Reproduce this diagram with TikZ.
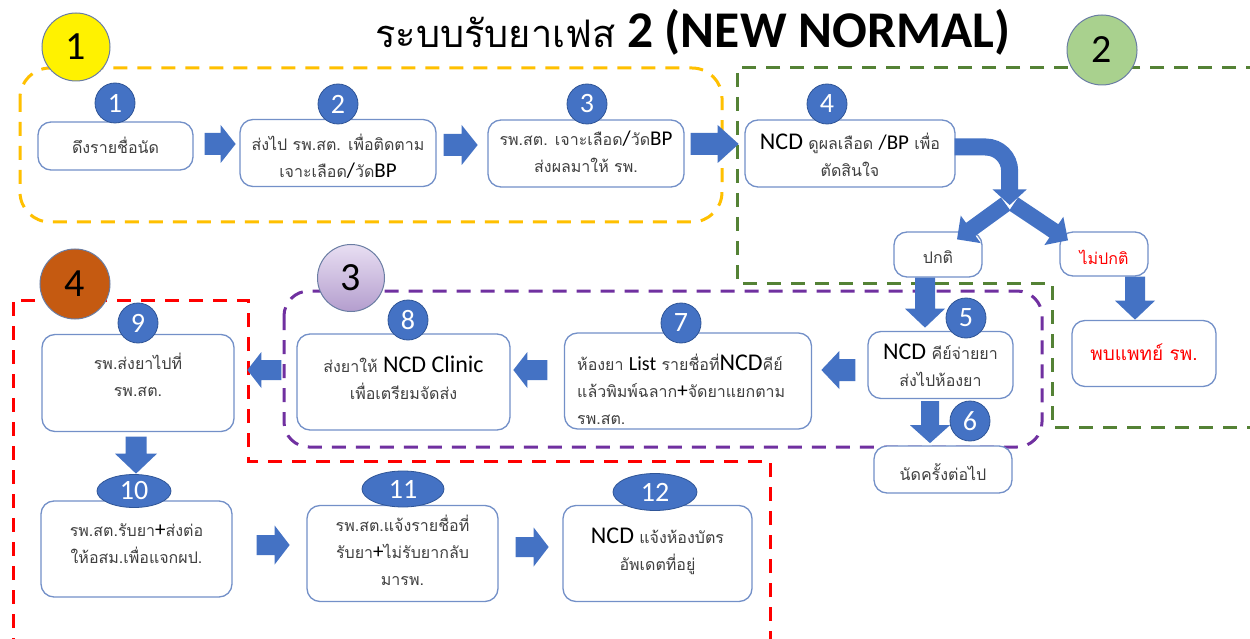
\documentclass[tikz,border=0pt]{standalone}
\usepackage{fontspec}
\setmainfont{Carlito}
\newfontfamily\thfont[Script=Thai]{Loma}
\usetikzlibrary{calc,shapes.geometric}

\definecolor{grpOrange}{HTML}{FFC000}
\definecolor{grpGreen}{HTML}{548235}
\definecolor{grpPurple}{HTML}{7030A0}
\definecolor{grpRed}{HTML}{FF0000}
\definecolor{flowBlue}{HTML}{4472C4}
\definecolor{badgeEdge}{HTML}{2F5597}
\definecolor{boxEdge}{HTML}{7390C8}
\definecolor{thaiGray}{HTML}{3F3F3F}
\definecolor{ringEdge}{HTML}{6A7DA3}

% Latin words inside Thai text
\newcommand\lat[2][21]{{\normalfont\fontsize{#1}{#1}\selectfont\color{black}#2}}

% block arrow: tail, tip, shaft half width, head half width, head length
\newcommand\flowarrow[5]{%
  \coordinate (fa-h) at ($(#2)!#5pt!(#1)$);
  \fill[flowBlue] ($(#1)!#3pt!90:(#2)$) -- ($(fa-h)!#3pt!90:(#2)$)
    -- ($(fa-h)!#4pt!90:(#2)$) -- (#2) -- ($(fa-h)!#4pt!-90:(#2)$)
    -- ($(fa-h)!#3pt!-90:(#2)$) -- ($(#1)!#3pt!-90:(#2)$) -- cycle;
}

\tikzset{
  grp/.style={line width=3pt, dash pattern=on 14pt off 10pt},
  box/.style={draw=boxEdge, line width=1.3pt, fill=white, rounded corners=13pt, inner sep=0pt},
  txt/.style={font=\thfont\fontsize{16}{27}\selectfont, text=thaiGray, align=center, inner sep=0pt},
  badge/.style={circle, fill=flowBlue, draw=badgeEdge, line width=0.8pt, text=white,
    font=\fontsize{28}{28}\selectfont, inner sep=0pt, minimum size=40pt},
  ellbadge/.style={ellipse, fill=flowBlue, draw=badgeEdge, line width=0.8pt, text=white,
    font=\fontsize{28}{28}\selectfont, inner sep=0pt},
  ring/.style={circle, draw=ringEdge, line width=1pt, inner sep=0pt, minimum size=68pt,
    font=\fontsize{40}{40}\selectfont, text=black},
}

\begin{document}
\begin{tikzpicture}[x=1pt, y=-1pt]
\useasboundingbox (0,0) rectangle (1250,639);
\fill[white] (0,0) rectangle (1250,639);

% group outlines
\draw[grp, grpOrange, rounded corners=30pt] (20,68) rectangle (722,222);
\draw[grp, grpGreen] (1260,68) -- (737,68) -- (737,283) -- (1052,283) -- (1052,427) -- (1260,427);
\draw[grp, grpPurple, rounded corners=25pt] (284,291) rectangle (1042,447);
\draw[grp, grpRed] (770,645) -- (770,461) -- (248,461) -- (248,300) -- (13,300) -- (13,645);

% title
\node[anchor=base west, inner sep=0pt] (title) at (375,48)
  {{\thfont\fontsize{38}{40}\selectfont ระบบรับยาเฟส}{\fontsize{51.5}{52}\selectfont\bfseries\ 2 (NEW NORMAL)}};

% process boxes
\node[box, minimum width=155pt, minimum height=48pt] (b1) at (115.5,146) {};
\node[box, minimum width=196pt, minimum height=67pt] (b2) at (338,153) {};
\node[box, minimum width=196pt, minimum height=67pt] (b3) at (586,153.5) {};
\node[box, minimum width=210pt, minimum height=67pt] (b4) at (850,153.5) {};
\node[box, minimum width=88pt, minimum height=45pt] (pk) at (938,254.5) {};
\node[box, minimum width=88pt, minimum height=44pt] (npk) at (1104,254) {};
\node[box, minimum width=144pt, minimum height=66pt] (doc) at (1144,353.5) {};
\node[box, minimum width=145pt, minimum height=67pt] (b5) at (940.5,365) {};
\node[box, minimum width=138pt, minimum height=47pt] (b6) at (943,469.5) {};
\node[box, minimum width=247pt, minimum height=96pt] (b7) at (688,381) {};
\node[box, minimum width=213pt, minimum height=96pt] (b8) at (403.5,382) {};
\node[box, minimum width=192pt, minimum height=97pt] (b9) at (138,383) {};
\node[box, minimum width=191pt, minimum height=96pt] (b10) at (136.5,549) {};
\node[box, minimum width=191pt, minimum height=96pt] (b11) at (402.5,553.5) {};
\node[box, minimum width=189pt, minimum height=96pt] (b12) at (657.5,553.5) {};

% box texts
\node[txt] (t1) at (115.5,145) {ดึงรายชื่อนัด};
\node[txt] (t2) at (338,156) {ส่งไป รพ.สต. เพื่อติดตาม\\ เจาะเลือด\lat{/}วัด\lat{BP}};
\node[txt] (t3) at (586,152) {รพ.สต. เจาะเลือด\lat{/}วัด\lat{BP}\\ ส่งผลมาให้ รพ.};
\node[txt] (t4) at (850,155) {\lat[24]{NCD} ดูผลเลือด \lat{/BP} เพื่อ\\ ตัดสินใจ};
\node[txt] (tpk) at (938,257) {ปกติ};
\node[txt, text=grpRed] (tnpk) at (1104,257) {ไม่ปกติ};
\node[txt, text=grpRed, font=\thfont\fontsize{19}{27}\selectfont] (tdoc) at (1144,352) {พบแพทย์ รพ.};
\node[txt] (t5) at (940.5,365) {\lat[24]{NCD} คีย์จ่ายยา\\ ส่งไปห้องยา};
\node[txt] (t6) at (943,472) {นัดครั้งต่อไป};
\node[txt, align=left, anchor=west] (t7) at (577,389) {ห้องยา \lat[20]{List} รายชื่อที่\lat[24]{NCD}คีย์\\ แล้วพิมพ์ฉลาก\lat{+}จัดยาแยกตาม\\ รพ.สต.};
\node[txt] (t8) at (403.5,378) {ส่งยาให้ \lat[24]{NCD Clinic}\\ เพื่อเตรียมจัดส่ง};
\node[txt] (t9) at (138,375) {รพ.ส่งยาไปที่\\ รพ.สต.};
\node[txt] (t10) at (136.5,544) {รพ.สต.รับยา\lat{+}ส่งต่อ\\ ให้อสม.เพื่อแจกผป.};
\node[txt] (t11) at (402.5,550) {รพ.สต.แจ้งรายชื่อที่\\ รับยา\lat{+}ไม่รับยากลับ\\ มารพ.};
\node[txt] (t12) at (657.5,551) {\lat[24]{NCD} แจ้งห้องบัตร\\ อัพเดตที่อยู่};

% straight block arrows
\coordinate (a12t) at ($(b1.east)+(11,-2)$);   \coordinate (a12h) at ($(b1.east)+(42,-2)$);
\coordinate (a23t) at ($(b2.east)+(7,-8)$);    \coordinate (a23h) at ($(b2.east)+(41,-8)$);
\coordinate (a34t) at ($(b3.east)+(6,-9.5)$);  \coordinate (a34h) at ($(b3.east)+(54,-9.5)$);
\coordinate (apkt) at ($(pk.south)+(-13,0)$);  \coordinate (apkh) at ($(pk.south)+(-13,50)$);
\coordinate (anpt) at ($(npk.south)+(31,0)$);  \coordinate (anph) at ($(npk.south)+(31,43)$);
\coordinate (a56t) at ($(b5.south)+(-10.5,2)$); \coordinate (a56h) at ($(b5.south)+(-10.5,44)$);
\coordinate (a57t) at ($(b5.west)+(-12,5)$);   \coordinate (a57h) at ($(b5.west)+(-46,5)$);
\coordinate (a78t) at ($(b7.west)+(-16.5,-11)$); \coordinate (a78h) at ($(b7.west)+(-50.5,-11)$);
\coordinate (a89t) at ($(b8.west)+(-15,-12)$); \coordinate (a89h) at ($(b8.west)+(-49,-12)$);
\coordinate (a910t) at ($(b9.south)+(-2,4.5)$); \coordinate (a910h) at ($(b9.south)+(-2,41.5)$);
\coordinate (a1011t) at ($(b10.east)+(24,-4)$); \coordinate (a1011h) at ($(b10.east)+(57,-4)$);
\coordinate (a1112t) at ($(b11.east)+(17,-6.5)$); \coordinate (a1112h) at ($(b11.east)+(50,-6.5)$);

\flowarrow{a12t}{a12h}{11}{19}{15}
\flowarrow{a23t}{a23h}{11}{20}{16}
\flowarrow{a34t}{a34h}{11}{19}{21}
\flowarrow{apkt}{apkh}{10}{20}{19}
\flowarrow{anpt}{anph}{10}{20}{19}
\flowarrow{a56t}{a56h}{9}{20}{18}
\flowarrow{a57t}{a57h}{11}{19}{18}
\flowarrow{a78t}{a78h}{10}{18}{14}
\flowarrow{a89t}{a89h}{10}{18}{14}
\flowarrow{a910t}{a910h}{10.5}{21}{20}
\flowarrow{a1011t}{a1011h}{10}{19.5}{15}
\flowarrow{a1112t}{a1112h}{10}{19.5}{15}

% bent arrow from box 4 splitting to both results
\draw[flowBlue, line width=17pt, rounded corners=24pt]
  ($(b4.east)+(-1,-6.5)$) -- ($(b4.east)+(54,-6.5)$) -- ($(b4.east)+(54,38)$);
\coordinate (split) at ($(b4.east)+(54,51.5)$);
\fill[flowBlue] ($(b4.east)+(37,36)$) -- ($(b4.east)+(71,36)$) -- (split) -- cycle;
\coordinate (spl) at ($(split)+(-4,-1)$);  \coordinate (splh) at ($(pk.north)+(19,8)$);
\coordinate (spr) at ($(split)+(4,-1)$);   \coordinate (sprh) at ($(npk.north)+(-36,9)$);
\flowarrow{spl}{splh}{8}{17}{17}
\flowarrow{spr}{sprh}{8}{17}{17}

% step badges
\node[badge] (n1) at (115,103) {1};
\node[badge] (n2) at (338,104) {2};
\node[badge] (n3) at (587,104) {3};
\node[badge] (n4) at (827,104) {4};
\node[badge] (n5) at (966,318) {5};
\node[badge] (n6) at (970,421) {6};
\node[badge] (n7) at (681,323) {7};
\node[badge] (n8) at (408,320) {8};
\node[badge] (n9) at (138,323) {9};
\node[ellbadge, minimum width=74pt, minimum height=33pt] (n10) at (134,491) {10};
\node[ellbadge, minimum width=82pt, minimum height=36pt] (n11) at (403,489) {11};
\node[ellbadge, minimum width=84pt, minimum height=37pt] (n12) at (655,492) {12};

% phase circles
\node[ring, fill=yellow] (g1) at (76,47) {1};
\node[ring, fill={rgb,255:red,169;green,209;blue,142}, minimum size=70pt] (g2) at (1102,50) {2};
\node[ring, top color={rgb,255:red,232;green,222;blue,242}, bottom color={rgb,255:red,180;green,158;blue,206}, minimum size=67pt] (g3) at (351,278) {3};
\node[ring, fill={rgb,255:red,197;green,90;blue,17}, minimum size=70pt] (g4) at (75,284) {4};
\end{tikzpicture}
\end{document}
